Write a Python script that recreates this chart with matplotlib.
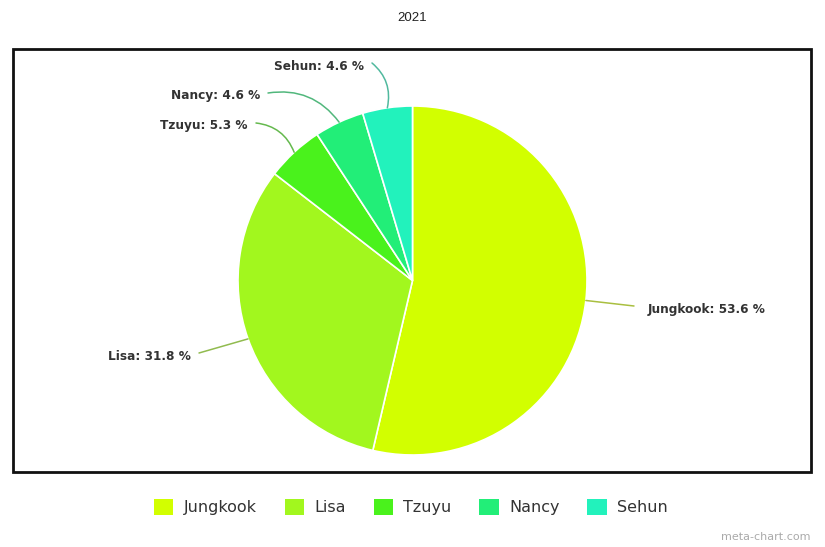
import matplotlib.pyplot as plt
import matplotlib.patches as patches
import matplotlib.colors as mcolors
import numpy as np

# --- DATA ---
names = ['Jungkook', 'Lisa', 'Tzuyu', 'Nancy', 'Sehun']
shares = [53.6, 31.8, 5.3, 4.6, 4.6]
colors = ['#d2ff00', '#a2f71e', '#4af21c', '#22ee78', '#22f2bc']
title = '2021'

W, H = 825, 547
fig = plt.figure(figsize=(W / 100, H / 100), dpi=100, facecolor='white')
ax = fig.add_axes([0, 0, 1, 1])

def py(y):
    # pixel row (from top) -> data y
    return H - y

cx, cy, r = 412.5, py(280.5), 174.5
wedges, _ = ax.pie(shares, colors=colors, startangle=90, counterclock=False,
                   center=(cx, cy), radius=r, frame=True,
                   wedgeprops=dict(edgecolor='white', linewidth=1.2))
ax.set_xlim(0, W)
ax.set_ylim(0, H)
ax.axis('off')

# frame around plot area
ax.add_patch(patches.Rectangle((13, py(472)), 798, 423, fill=False,
                               ec='#111111', lw=2, zorder=1))
ax.text(412, py(18), title, ha='center', va='center', fontsize=9.5,
        family='Liberation Sans', color='#222222')

# label placement: (text x, text y in pixels from top, ha, curve)
label_pos = [(648, 309, 'left', 0.0),
             (191, 356, 'right', 0.0),
             (248, 126, 'right', -0.3),
             (260, 96, 'right', -0.3),
             (364, 66, 'right', -0.3)]

for w, name, val, col, (tx, ty, ha, rad) in zip(wedges, names, shares, colors, label_pos):
    ang = np.deg2rad((w.theta1 + w.theta2) / 2)
    ex, ey = cx + r * np.cos(ang), cy + r * np.sin(ang)
    gap = 14 if ha == 'left' else -8
    line_col = 0.5 * np.array(mcolors.to_rgb(col)) + 0.5 * np.array([0.5, 0.5, 0.5])
    ax.annotate('', xy=(ex, ey), xytext=(tx - gap, py(ty) + 3),
                arrowprops=dict(arrowstyle='-', color=line_col, lw=1.1,
                                shrinkA=0, shrinkB=0,
                                connectionstyle=f'arc3,rad={rad}'))
    ax.text(tx, py(ty), f'{name}: {val} %', ha=ha, va='center',
            fontsize=8.7, fontweight='bold', family='DejaVu Sans',
            color='#333333')

# legend
handles = [patches.Patch(fc=c, ec='none') for c in colors]
leg = ax.legend(handles, names, loc='center', bbox_to_anchor=(411 / W, 1 - 507 / H),
                ncol=5, frameon=False, handlelength=1.2,
                handleheight=1.2, handletextpad=0.65, columnspacing=1.75,
                prop={'family': 'DejaVu Sans', 'size': 11.5})
for t in leg.get_texts():
    t.set_color('#333333')

ax.text(810, py(537), 'meta-chart.com', ha='right', va='center', fontsize=8,
        color='#aaaaaa', family='DejaVu Sans')

fig.savefig('out.png', dpi=100, facecolor='white')
